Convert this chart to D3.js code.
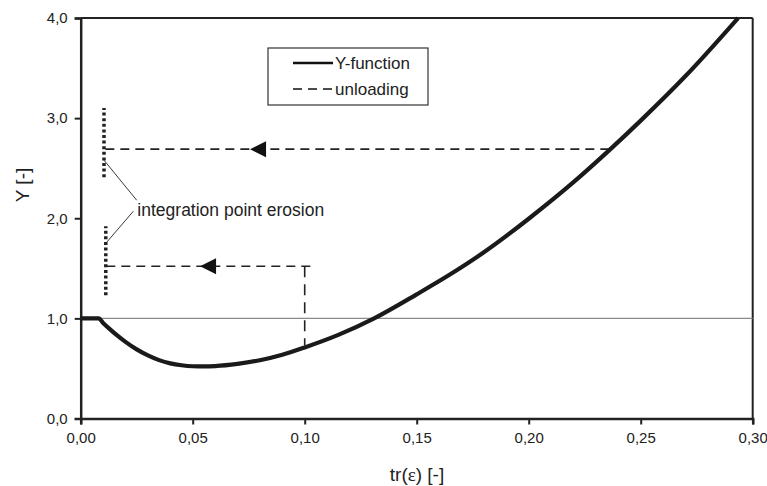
<!DOCTYPE html>
<html>
<head>
<meta charset="utf-8">
<script src="https://cdn.jsdelivr.net/npm/d3@7"></script>
<style>
  body { margin: 0; background: #fff; }
  text { font-family: "Liberation Sans", Arial, sans-serif; fill: #222; }
</style>
</head>
<body>
<div id="chart"></div>
<script>
// Y-function curve
const curveX = [0, 0.008, 0.010, 0.013, 0.016, 0.020, 0.025, 0.030, 0.035, 0.040, 0.045, 0.050, 0.055, 0.060, 0.070, 0.080, 0.090, 0.100, 0.115, 0.131, 0.150, 0.165, 0.180, 0.200, 0.220, 0.236, 0.250, 0.270, 0.2935];
const curveY = [1.0, 1.0, 0.955, 0.893, 0.835, 0.765, 0.69, 0.63, 0.583, 0.551, 0.532, 0.522, 0.52, 0.524, 0.546, 0.582, 0.637, 0.71, 0.835, 1.0, 1.24, 1.44, 1.66, 1.995, 2.36, 2.68, 2.975, 3.42, 4.0];

// unloading paths
const upperUnloadX = [0.0104, 0.236];
const upperUnloadY = 2.69;
const lowerUnloadX = [0.0112, 0.1025];
const lowerUnloadY = 1.52;
const lowerDropX = 0.100;
const lowerDropY = [1.52, 0.73];
const arrowTipX = [0.0756, 0.0533];
const arrowTipY = [2.69, 1.52];

// integration point erosion markers
const erosionX = [0.0104, 0.0112];
const erosionY = [[2.41, 3.10], [1.23, 1.92]];
const leaderEndY = [2.58, 1.75];
const leaderStart = [[0.0250, 2.18], [0.0235, 2.07]];

const xTicks = [0, 0.05, 0.10, 0.15, 0.20, 0.25, 0.30];
const yTicks = [0, 1, 2, 3, 4];

const W = 767, H = 486;
const margin = { top: 18, right: 14.3, bottom: 67.5, left: 80.7 };

const svg = d3.select('#chart').append('svg')
    .attr('width', W)
    .attr('height', H);

const x = d3.scaleLinear().domain([0, 0.3]).range([margin.left, W - margin.right]);
const y = d3.scaleLinear().domain([0, 4]).range([H - margin.bottom, margin.top]);

const comma = s => s.replace('.', ',');

// frame top and right
svg.append('line')
    .attr('x1', x(0)).attr('x2', x(0.3))
    .attr('y1', y(4)).attr('y2', y(4))
    .attr('stroke', '#222').attr('stroke-width', 2);
svg.append('line')
    .attr('x1', x(0.3)).attr('x2', x(0.3))
    .attr('y1', y(4)).attr('y2', y(0))
    .attr('stroke', '#222').attr('stroke-width', 2);

// reference line at Y = 1
svg.append('line')
    .attr('x1', x(0)).attr('x2', x(0.3))
    .attr('y1', y(1)).attr('y2', y(1))
    .attr('stroke', '#8a8a8a').attr('stroke-width', 1.2);

// axes
const xAxis = svg.append('g')
    .attr('transform', `translate(0,${y(0)})`)
    .call(d3.axisBottom(x).tickValues(xTicks).tickSize(6).tickPadding(8)
        .tickFormat(d => comma(d3.format('.2f')(d))));
const yAxis = svg.append('g')
    .attr('transform', `translate(${x(0)},0)`)
    .call(d3.axisLeft(y).tickValues(yTicks).tickSize(6).tickPadding(7)
        .tickFormat(d => comma(d3.format('.1f')(d))));
[xAxis, yAxis].forEach(g => {
    g.select('.domain').attr('stroke', '#222').attr('stroke-width', 2.5);
    g.selectAll('.tick line').attr('stroke', '#222').attr('stroke-width', 2);
    g.selectAll('.tick text').attr('font-size', 15).attr('fill', '#222')
        .attr('font-family', '"Liberation Sans", Arial, sans-serif');
});

// axis titles
const xt = svg.append('text')
    .attr('x', 417).attr('y', 481)
    .attr('text-anchor', 'middle')
    .attr('font-size', 19);
xt.append('tspan').text('tr(');
xt.append('tspan').attr('font-family', '"Liberation Serif", "Times New Roman", serif').text('ε');
xt.append('tspan').text(') [-]');

svg.append('text')
    .attr('transform', 'translate(29,185) rotate(-90)')
    .attr('text-anchor', 'middle')
    .attr('font-size', 19)
    .text('Y [-]');

// erosion markers
erosionX.forEach((ex, i) => {
    svg.append('line')
        .attr('x1', x(ex)).attr('x2', x(ex))
        .attr('y1', y(erosionY[i][0])).attr('y2', y(erosionY[i][1]))
        .attr('stroke', '#222').attr('stroke-width', 3.5)
        .attr('stroke-dasharray', '3,2.6');
    svg.append('line')
        .attr('x1', x(leaderStart[i][0])).attr('y1', y(leaderStart[i][1]))
        .attr('x2', x(ex)).attr('y2', y(leaderEndY[i]))
        .attr('stroke', '#222').attr('stroke-width', 0.9);
});

svg.append('text')
    .attr('x', x(0.0253)).attr('y', y(2.02))
    .attr('font-size', 17.5)
    .text('integration point erosion');

// unloading dashed lines
const dash = '9,6';
svg.append('line')
    .attr('x1', x(upperUnloadX[1])).attr('x2', x(upperUnloadX[0]))
    .attr('y1', y(upperUnloadY)).attr('y2', y(upperUnloadY))
    .attr('stroke', '#222').attr('stroke-width', 1.6).attr('stroke-dasharray', dash);
svg.append('line')
    .attr('x1', x(lowerUnloadX[1])).attr('x2', x(lowerUnloadX[0]))
    .attr('y1', y(lowerUnloadY)).attr('y2', y(lowerUnloadY))
    .attr('stroke', '#222').attr('stroke-width', 1.6).attr('stroke-dasharray', dash);
svg.append('line')
    .attr('x1', x(lowerDropX)).attr('x2', x(lowerDropX))
    .attr('y1', y(lowerDropY[0])).attr('y2', y(lowerDropY[1]))
    .attr('stroke', '#222').attr('stroke-width', 1.6).attr('stroke-dasharray', '11,7');

// arrow heads
arrowTipX.forEach((ax, i) => {
    const tx = x(ax), ty = y(arrowTipY[i]);
    svg.append('path')
        .attr('d', `M${tx},${ty} L${tx + 16},${ty - 8} L${tx + 16},${ty + 8} Z`)
        .attr('fill', '#111');
});

// Y-function
const line = d3.line()
    .x(d => x(d[0]))
    .y(d => y(d[1]))
    .curve(d3.curveMonotoneX);
svg.append('path')
    .datum(curveX.map((v, i) => [v, curveY[i]]))
    .attr('d', line)
    .attr('fill', 'none')
    .attr('stroke', '#1a1a1a')
    .attr('stroke-width', 4.2);

// legend
const lg = svg.append('g').attr('transform', 'translate(268,48)');
lg.append('rect')
    .attr('width', 160).attr('height', 57)
    .attr('fill', '#fff').attr('stroke', '#333').attr('stroke-width', 1.2);
lg.append('line')
    .attr('x1', 25).attr('x2', 65).attr('y1', 15).attr('y2', 15)
    .attr('stroke', '#111').attr('stroke-width', 2.5);
lg.append('line')
    .attr('x1', 25).attr('x2', 65).attr('y1', 41).attr('y2', 41)
    .attr('stroke', '#111').attr('stroke-width', 1.6).attr('stroke-dasharray', '9,6');
lg.append('text').attr('x', 67).attr('y', 21).attr('font-size', 17).text('Y-function');
lg.append('text').attr('x', 67).attr('y', 47).attr('font-size', 17).text('unloading');
</script>
</body>
</html>
